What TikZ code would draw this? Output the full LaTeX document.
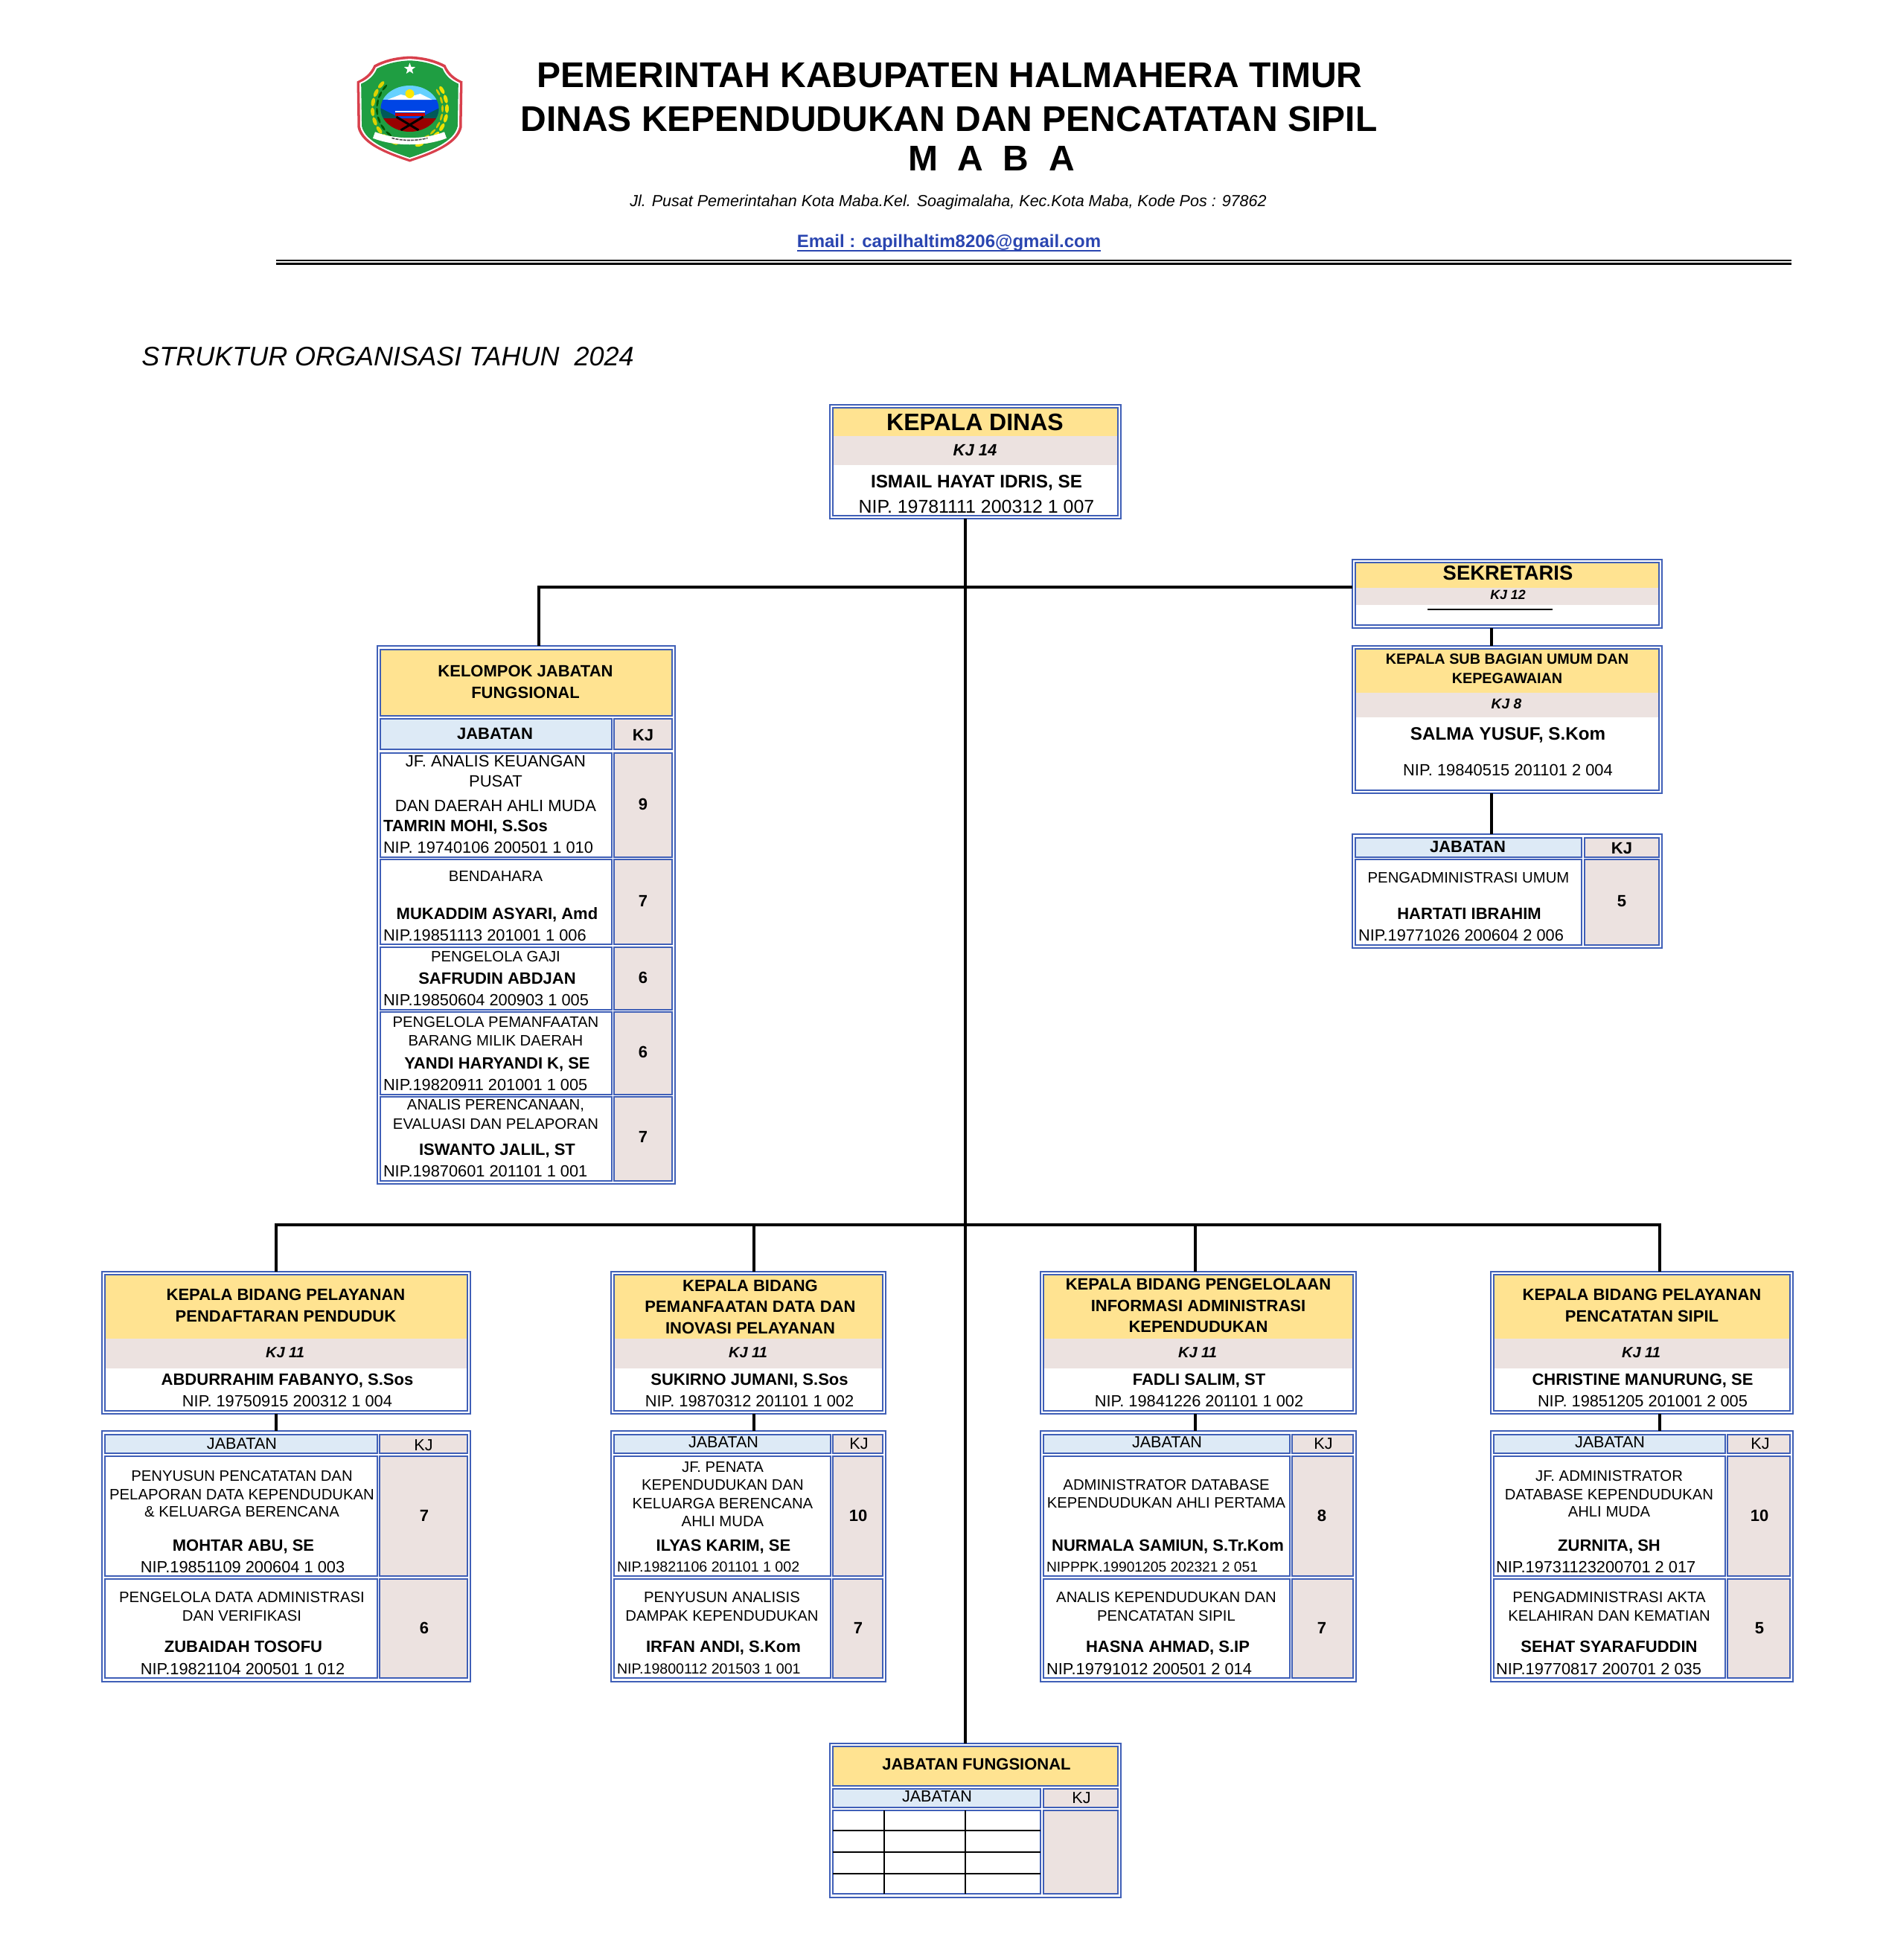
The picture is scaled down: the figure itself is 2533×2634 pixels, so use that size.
\documentclass[tikz,border=0pt]{standalone}
\usepackage{fontspec}
\usepackage{xcolor}
\setmainfont{Liberation Sans}
\usetikzlibrary{calc, positioning, shapes.geometric}
\definecolor{matblue}{HTML}{3F5FB7}
\definecolor{matgold}{HTML}{FFE391}
\definecolor{matrose}{HTML}{ECE2E0}
\definecolor{matsky}{HTML}{DDEAF6}
\definecolor{maillink}{HTML}{2A45B0}
\definecolor{crestred}{HTML}{D8404C}
\definecolor{crestgreen}{HTML}{1F9E42}
\tikzset{
  lab/.style={inner sep=0pt,outer sep=0pt,text depth=0pt},
  body/.style={lab,font=\fontsize{10.15}{12}\selectfont},
  wide/.style={lab,font=\fontsize{11}{13}\selectfont},
  nipline/.style={lab,font=\fontsize{10.9}{12}\selectfont},
  heading/.style={lab,font=\fontsize{11}{12}\selectfont\bfseries},
  kjline/.style={lab,font=\fontsize{10}{11}\selectfont\bfseries\itshape},
  digit/.style={lab,font=\fontsize{11}{12}\selectfont\bfseries},
  letterhead/.style={lab,font=\fontsize{24}{28}\selectfont\bfseries},
  cellbox/.style={inner sep=0pt,outer sep=0pt,rectangle,draw=matblue,line width=1.1pt},
  bandbox/.style={inner sep=0pt,outer sep=0pt,rectangle},
  conn/.style={line width=1.9pt,black},
  gridrule/.style={line width=0.8pt,black}
}
\newcommand\DrawCell[6][]{%
\node[cellbox,#1,minimum width={((#5)-(#3))*0.5pt},minimum height={((#6)-(#4))*0.5pt}] (#2) at ({((#3)+(#5))/2},{((#4)+(#6))/2}) {};
}
\newcommand\DrawBand[6][]{%
\node[bandbox,#1,minimum width={((#5)-(#3))*0.5pt},minimum height={((#6)-(#4))*0.5pt}] (#2) at ({((#3)+(#5))/2},{((#4)+(#6))/2}) {};
}
\newcommand\LabelAt[5][body]{%
\node[#1] (#2) at (#3,#4) {\vphantom{H}#5};
}
% outer frame, gold band, rose band, inner frame
\newcommand\DrawHead[7]{%
\DrawCell{#1}{#2}{#3}{#4}{#5}
\DrawBand[fill=matgold]{#1gold}{#2+4}{#3+4}{#4-4}{#6}
\DrawBand[fill=matrose]{#1rose}{#2+4}{#6}{#4-4}{#7}
\DrawCell{#1in}{#2+4}{#3+4}{#4-4}{#5-4}
}
% table with a header row and two rows, as under each bidang
\newcommand\DrawTable[5]{%
\DrawCell{#1}{#2}{1923}{#5}{2260}
\DrawCell[fill=matsky]{#1hj}{#2+4}{1928}{#3}{1953}
\DrawCell[fill=matrose]{#1hk}{#4}{1928}{#5-4}{1953}
\DrawCell{#1ra}{#2+4}{1957}{#3}{2118}
\DrawCell[fill=matrose]{#1ka}{#4}{1957}{#5-4}{2118}
\DrawCell{#1rb}{#2+4}{2122}{#3}{2255}
\DrawCell[fill=matrose]{#1kb}{#4}{2122}{#5-4}{2255}
}
\newcommand\DrawCrest{%
\def\CrestPath{(0,-72) .. controls (-20,-71) and (-35,-67) .. (-48,-60) .. controls (-53,-48) and (-62,-42) .. (-71,-38) -- (-70,24) .. controls (-65,47) and (-30,60) .. (0,70) .. controls (30,60) and (65,47) .. (70,24) -- (71,-38) .. controls (62,-42) and (53,-48) .. (48,-60) .. controls (35,-67) and (20,-71) .. (0,-72) -- cycle}
\begin{scope}[shift={(550.5,147.5)}]
  \fill[crestred] \CrestPath;
  \fill[white,scale=0.95] \CrestPath;
  \fill[crestgreen,scale=0.92] \CrestPath;
  \node[star,star points=5,star point ratio=2.4,fill=white,inner sep=0pt,minimum size=8pt] (creststar) at (0,-55) {};
  \begin{scope}[shift={(0,-1.5)}]
    \foreach \a in {140,155,...,255} {
      \fill[green!35!black,rotate=\a] (44,0) ellipse [x radius=1.5,y radius=5];
      \fill[yellow!70!olive,rotate=\a] (50,0) ellipse [x radius=2.5,y radius=6];
    }
    \foreach \a in {-75,-60,...,40} {
      \fill[yellow!60!olive,rotate=\a] (44,0) ellipse [x radius=1.5,y radius=5];
      \fill[yellow!85!olive,rotate=\a] (50,0) ellipse [x radius=2.5,y radius=6];
    }
    \begin{scope}
      \clip (0,0) ellipse [x radius=39,y radius=31];
      \fill[blue!30!cyan!60!white] (-40,-32) rectangle (40,-12);
      \fill[blue!70!cyan!90!black] (-40,-12) rectangle (40,13);
      \fill[white] (-30,-12) -- (-12,-19) -- (0,-16) -- (14,-20) -- (30,-12) -- cycle;
      \fill[teal!70!black] (-40,-1) -- (-12,13) -- (-40,15) -- cycle;
      \fill[teal!70!black] (40,-1) -- (12,13) -- (40,15) -- cycle;
      \fill[red!60!black] (-40,13) rectangle (40,32);
      \fill[white] (-20,3) rectangle (20,5);
      \fill[red!80!black] (-20,6) rectangle (20,10);
      \draw[black,line width=1.5pt] (-18,11) -- (12,29);
      \draw[black,line width=1.5pt] (18,11) -- (-12,29);
    \end{scope}
    \fill[yellow!90!orange] (0,-20) circle [radius=6];
  \end{scope}
  \draw[white,line width=4.5pt] (-48,34) .. controls (-20,45) and (20,45) .. (48,34);
  \draw[black!70,line width=0.8pt,dash pattern=on 2pt off 0.6pt] (-24,38) .. controls (-10,42) and (10,42) .. (24,38);
\end{scope}
}

\begin{document}
\begin{tikzpicture}[x=0.5pt,y=-0.5pt]
  \useasboundingbox (0,0) rectangle (2533,2634);

  \DrawCrest

  \LabelAt[letterhead]{titleA}{1276}{101}{PEMERINTAH KABUPATEN HALMAHERA TIMUR}
  \LabelAt[letterhead]{titleB}{1275}{160}{DINAS KEPENDUDUKAN DAN PENCATATAN SIPIL}
  \LabelAt[letterhead]{titleC}{1332}{213}{M\ \ A\ \ B\ \ A}
  \LabelAt[lab,font=\fontsize{10.76}{13}\selectfont\itshape]{address}{1274}{270}{Jl. Pusat Pemerintahan Kota Maba.Kel. Soagimalaha, Kec.Kota Maba, Kode Pos : 97862}
  \LabelAt[lab,text=maillink,font=\fontsize{12}{14}\selectfont\bfseries]{email}{1275}{324}{Email : capilhaltim8206@gmail.com}
  \draw[maillink,line width=1.1pt] ($(email.south west)+(0,4)$) -- ($(email.south east)+(0,4)$);
  \coordinate (ruleL) at (371,350);
  \coordinate (ruleR) at (2407,350);
  \draw[line width=1.1pt] (ruleL) -- (ruleR);
  \draw[line width=1.1pt] ($(ruleL)+(0,4.5)$) -- ($(ruleR)+(0,4.5)$);
  \LabelAt[lab,font=\fontsize{18}{21}\selectfont\itshape]{yeartitle}{521}{479}{STRUKTUR ORGANISASI TAHUN\ \ 2024}

  % kepala dinas
  \DrawHead{kadis}{1115}{544}{1506}{697}{586}{625}
  \LabelAt[lab,font=\fontsize{16}{18}\selectfont\bfseries]{kadistitle}{1310}{567}{KEPALA DINAS}
  \LabelAt[lab,font=\fontsize{11}{12}\selectfont\bfseries\itshape]{kadiskj}{1310}{605}{KJ 14}
  \LabelAt[lab,font=\fontsize{12.15}{13}\selectfont\bfseries]{kadisname}{1312}{647}{ISMAIL HAYAT IDRIS, SE}
  \LabelAt[lab,font=\fontsize{12.45}{14}\selectfont]{kadisnip}{1312}{681}{NIP. 19781111 200312 1 007}

  % sekretaris
  \DrawHead{sek}{1817}{752}{2233}{844}{790}{813}
  \LabelAt[lab,font=\fontsize{13.7}{16}\selectfont\bfseries]{sektitle}{2026}{770}{SEKRETARIS}
  \LabelAt[lab,font=\fontsize{8.9}{10}\selectfont\bfseries\itshape]{sekkj}{2026}{799}{KJ 12}
  \coordinate (sekblankL) at (1918,819);
  \coordinate (sekblankR) at (2086,819);
  \draw[line width=0.8pt] (sekblankL) -- (sekblankR);

  \DrawHead{sub}{1817}{868}{2233}{1066}{931}{964}
  \LabelAt[lab,font=\fontsize{9.9}{12}\selectfont\bfseries]{subtitleA}{2025}{886}{KEPALA SUB BAGIAN UMUM DAN}
  \LabelAt[lab,font=\fontsize{9.9}{12}\selectfont\bfseries]{subtitleB}{2025}{912}{KEPEGAWAIAN}
  \LabelAt[kjline,font=\fontsize{9.6}{11}\selectfont\bfseries\itshape]{subkj}{2024}{946}{KJ 8}
  \LabelAt[lab,font=\fontsize{12.1}{13}\selectfont\bfseries]{subname}{2026}{986}{SALMA YUSUF, S.Kom}
  \LabelAt[nipline,font=\fontsize{10.95}{12}\selectfont]{subnip}{2026}{1035}{NIP. 19840515 201101 2 004}

  \DrawCell{subtab}{1817}{1121}{2233}{1274}
  \DrawCell[fill=matsky]{subhj}{1821}{1126}{2125}{1152}
  \DrawCell[fill=matrose]{subhk}{2129}{1126}{2229}{1152}
  \DrawCell{subra}{1821}{1155}{2125}{1270}
  \DrawCell[fill=matrose]{subka}{2129}{1155}{2229}{1270}
  \LabelAt[heading]{subj}{1972}{1138}{JABATAN}
  \LabelAt[heading]{subk}{2179}{1140}{KJ}
  \LabelAt{subrole}{1973}{1179}{PENGADMINISTRASI UMUM}
  \LabelAt[heading]{subperson}{1974}{1228}{HARTATI IBRAHIM}
  \LabelAt[nipline,anchor=west]{subpnip}{1825}{1257}{NIP.19771026 200604 2 006}
  \LabelAt[digit]{subdigit}{2179}{1211}{5}

  % kelompok jabatan fungsional
  \DrawCell{kelompok}{507}{868}{907}{1591}
  \DrawCell[fill=matgold]{kelgold}{511}{873}{903}{962}
  \DrawCell[fill=matsky]{kelhj}{511}{966}{822}{1007}
  \DrawCell[fill=matrose]{kelhk}{825}{966}{903}{1007}
  \DrawCell{kelra}{511}{1012}{822}{1152}
  \DrawCell[fill=matrose]{kelka}{825}{1012}{903}{1152}
  \DrawCell{kelrb}{511}{1155}{822}{1269}
  \DrawCell[fill=matrose]{kelkb}{825}{1155}{903}{1269}
  \DrawCell{kelrc}{511}{1273}{822}{1357}
  \DrawCell[fill=matrose]{kelkc}{825}{1273}{903}{1357}
  \DrawCell{kelrd}{511}{1360}{822}{1471}
  \DrawCell[fill=matrose]{kelkd}{825}{1360}{903}{1471}
  \DrawCell{kelre}{511}{1474}{822}{1587}
  \DrawCell[fill=matrose]{kelke}{825}{1474}{903}{1587}
  \LabelAt[heading]{keltitleA}{706}{902}{KELOMPOK JABATAN}
  \LabelAt[heading]{keltitleB}{706}{931}{FUNGSIONAL}
  \LabelAt[heading]{kelj}{665}{986}{JABATAN}
  \LabelAt[heading]{kelk}{864}{988}{KJ}
  \LabelAt[wide]{kelaA}{666}{1023}{JF. ANALIS KEUANGAN}
  \LabelAt[wide]{kelaB}{666}{1050}{PUSAT}
  \LabelAt[wide]{kelaC}{666}{1083}{DAN DAERAH AHLI MUDA}
  \LabelAt[heading,anchor=west]{kelaD}{515}{1110}{TAMRIN MOHI, S.Sos}
  \LabelAt[nipline,anchor=west]{kelaE}{515}{1139}{NIP. 19740106 200501 1 010}
  \LabelAt[digit]{kelaK}{864}{1081}{9}
  \LabelAt{kelbA}{666}{1178}{BENDAHARA}
  \LabelAt[heading]{kelbB}{668}{1228}{MUKADDIM ASYARI, Amd}
  \LabelAt[nipline,anchor=west]{kelbC}{515}{1257}{NIP.19851113 201001 1 006}
  \LabelAt[digit]{kelbK}{864}{1211}{7}
  \LabelAt{kelcA}{666}{1285}{PENGELOLA GAJI}
  \LabelAt[heading]{kelcB}{668}{1315}{SAFRUDIN ABDJAN}
  \LabelAt[nipline,anchor=west]{kelcC}{515}{1344}{NIP.19850604 200903 1 005}
  \LabelAt[digit]{kelcK}{864}{1314}{6}
  \LabelAt{keldA}{666}{1373}{PENGELOLA PEMANFAATAN}
  \LabelAt{keldB}{666}{1398}{BARANG MILIK DAERAH}
  \LabelAt[heading]{keldC}{668}{1429}{YANDI HARYANDI K, SE}
  \LabelAt[nipline,anchor=west]{keldD}{515}{1458}{NIP.19820911 201001 1 005}
  \LabelAt[digit]{keldK}{864}{1414}{6}
  \LabelAt{keleA}{666}{1484}{ANALIS PERENCANAAN,}
  \LabelAt{keleB}{666}{1510}{EVALUASI DAN PELAPORAN}
  \LabelAt[heading]{keleC}{668}{1545}{ISWANTO JALIL, ST}
  \LabelAt[nipline,anchor=west]{keleD}{515}{1574}{NIP.19870601 201101 1 001}
  \LabelAt[digit]{keleK}{864}{1528}{7}

  % bidang 1
  \DrawHead{bA}{137}{1709}{632}{1900}{1799}{1839}
  \LabelAt[heading]{bAtitleA}{384}{1740}{KEPALA BIDANG PELAYANAN}
  \LabelAt[heading]{bAtitleB}{384}{1769}{PENDAFTARAN PENDUDUK}
  \LabelAt[kjline]{bAkj}{383}{1818}{KJ 11}
  \LabelAt[heading]{bAname}{386}{1854}{ABDURRAHIM FABANYO, S.Sos}
  \LabelAt[nipline]{bAnip}{386}{1883}{NIP. 19750915 200312 1 004}
  \DrawTable{bAtab}{137}{507}{510}{632}
  \LabelAt[lab,font=\fontsize{10.8}{12}\selectfont]{bAj}{325}{1940}{JABATAN}
  \LabelAt[lab,font=\fontsize{10.8}{12}\selectfont]{bAk}{569}{1942}{KJ}
  \LabelAt{bAaA}{325}{1983}{PENYUSUN PENCATATAN DAN}
  \LabelAt{bAaB}{325}{2008}{PELAPORAN DATA KEPENDUDUKAN}
  \LabelAt{bAaC}{325}{2031}{\& KELUARGA BERENCANA}
  \LabelAt[heading]{bAaD}{327}{2077}{MOHTAR ABU, SE}
  \LabelAt[nipline]{bAaE}{326}{2106}{NIP.19851109 200604 1 003}
  \LabelAt[digit]{bAaK}{570}{2037}{7}
  \LabelAt{bAbA}{325}{2146}{PENGELOLA DATA ADMINISTRASI}
  \LabelAt{bAbB}{325}{2171}{DAN VERIFIKASI}
  \LabelAt[heading]{bAbC}{327}{2213}{ZUBAIDAH TOSOFU}
  \LabelAt[nipline]{bAbD}{326}{2243}{NIP.19821104 200501 1 012}
  \LabelAt[digit]{bAbK}{570}{2188}{6}

  % bidang 2
  \DrawHead{bB}{821}{1709}{1190}{1900}{1799}{1839}
  \LabelAt[heading]{bBtitleA}{1008}{1728}{KEPALA BIDANG}
  \LabelAt[heading]{bBtitleB}{1008}{1756}{PEMANFAATAN DATA DAN}
  \LabelAt[heading]{bBtitleC}{1008}{1785}{INOVASI PELAYANAN}
  \LabelAt[kjline]{bBkj}{1005}{1818}{KJ 11}
  \LabelAt[heading]{bBname}{1007}{1854}{SUKIRNO JUMANI, S.Sos}
  \LabelAt[nipline]{bBnip}{1007}{1883}{NIP. 19870312 201101 1 002}
  \DrawTable{bBtab}{821}{1116}{1119}{1190}
  \LabelAt[lab,font=\fontsize{10.8}{12}\selectfont]{bBj}{972}{1938}{JABATAN}
  \LabelAt[lab,font=\fontsize{10.8}{12}\selectfont]{bBk}{1154}{1940}{KJ}
  \LabelAt{bBaA}{971}{1971}{JF. PENATA}
  \LabelAt{bBaB}{971}{1995}{KEPENDUDUKAN DAN}
  \LabelAt{bBaC}{971}{2020}{KELUARGA BERENCANA}
  \LabelAt{bBaD}{971}{2044}{AHLI MUDA}
  \LabelAt[heading]{bBaE}{972}{2077}{ILYAS KARIM, SE}
  \LabelAt[lab,anchor=west,font=\fontsize{9.8}{12}\selectfont]{bBaF}{829}{2106}{NIP.19821106 201101 1 002}
  \LabelAt[digit]{bBaK}{1153}{2037}{10}
  \LabelAt{bBbA}{970}{2146}{PENYUSUN ANALISIS}
  \LabelAt{bBbB}{970}{2171}{DAMPAK KEPENDUDUKAN}
  \LabelAt[heading]{bBbC}{972}{2213}{IRFAN ANDI, S.Kom}
  \LabelAt[lab,anchor=west,font=\fontsize{9.8}{12}\selectfont]{bBbD}{829}{2243}{NIP.19800112 201503 1 001}
  \LabelAt[digit]{bBbK}{1153}{2188}{7}

  % bidang 3
  \DrawHead{bC}{1398}{1709}{1822}{1900}{1799}{1839}
  \LabelAt[heading]{bCtitleA}{1610}{1726}{KEPALA BIDANG PENGELOLAAN}
  \LabelAt[heading]{bCtitleB}{1610}{1755}{INFORMASI ADMINISTRASI}
  \LabelAt[heading]{bCtitleC}{1610}{1783}{KEPENDUDUKAN}
  \LabelAt[kjline]{bCkj}{1609}{1818}{KJ 11}
  \LabelAt[heading]{bCname}{1611}{1854}{FADLI SALIM, ST}
  \LabelAt[nipline]{bCnip}{1611}{1883}{NIP. 19841226 201101 1 002}
  \DrawTable{bCtab}{1398}{1733}{1736}{1822}
  \LabelAt[lab,font=\fontsize{10.8}{12}\selectfont]{bCj}{1568}{1938}{JABATAN}
  \LabelAt[lab,font=\fontsize{10.8}{12}\selectfont]{bCk}{1778}{1940}{KJ}
  \LabelAt{bCaA}{1567}{1995}{ADMINISTRATOR DATABASE}
  \LabelAt[body,font=\fontsize{10.1}{12}\selectfont]{bCaB}{1567}{2020}{KEPENDUDUKAN AHLI PERTAMA}
  \LabelAt[heading]{bCaC}{1569}{2077}{NURMALA SAMIUN, S.Tr.Kom}
  \LabelAt[lab,anchor=west,font=\fontsize{9.6}{12}\selectfont]{bCaD}{1406}{2106}{NIPPPK.19901205 202321 2 051}
  \LabelAt[digit]{bCaK}{1776}{2037}{8}
  \LabelAt{bCbA}{1567}{2146}{ANALIS KEPENDUDUKAN DAN}
  \LabelAt{bCbB}{1567}{2171}{PENCATATAN SIPIL}
  \LabelAt[heading]{bCbC}{1569}{2213}{HASNA AHMAD, S.IP}
  \LabelAt[nipline,anchor=west]{bCbD}{1406}{2243}{NIP.19791012 200501 2 014}
  \LabelAt[digit]{bCbK}{1776}{2188}{7}

  % bidang 4
  \DrawHead{bD}{2003}{1709}{2409}{1900}{1799}{1839}
  \LabelAt[heading]{bDtitleA}{2206}{1740}{KEPALA BIDANG PELAYANAN}
  \LabelAt[heading]{bDtitleB}{2206}{1769}{PENCATATAN SIPIL}
  \LabelAt[kjline]{bDkj}{2205}{1818}{KJ 11}
  \LabelAt[heading]{bDname}{2207}{1854}{CHRISTINE MANURUNG, SE}
  \LabelAt[nipline]{bDnip}{2207}{1883}{NIP. 19851205 201001 2 005}
  \DrawTable{bDtab}{2003}{2318}{2321}{2409}
  \LabelAt[lab,font=\fontsize{10.8}{12}\selectfont]{bDj}{2163}{1938}{JABATAN}
  \LabelAt[lab,font=\fontsize{10.8}{12}\selectfont]{bDk}{2365}{1940}{KJ}
  \LabelAt{bDaA}{2162}{1983}{JF. ADMINISTRATOR}
  \LabelAt{bDaB}{2162}{2008}{DATABASE KEPENDUDUKAN}
  \LabelAt{bDaC}{2162}{2031}{AHLI MUDA}
  \LabelAt[heading]{bDaD}{2162}{2077}{ZURNITA, SH}
  \LabelAt[nipline,anchor=west]{bDaE}{2010}{2106}{NIP.19731123200701 2 017}
  \LabelAt[digit]{bDaK}{2364}{2037}{10}
  \LabelAt{bDbA}{2162}{2146}{PENGADMINISTRASI AKTA}
  \LabelAt{bDbB}{2162}{2171}{KELAHIRAN DAN KEMATIAN}
  \LabelAt[heading]{bDbC}{2162}{2213}{SEHAT SYARAFUDDIN}
  \LabelAt[nipline,anchor=west]{bDbD}{2010}{2243}{NIP.19770817 200701 2 035}
  \LabelAt[digit]{bDbK}{2364}{2188}{5}

  % jabatan fungsional
  \DrawCell{jf}{1115}{2343}{1506}{2550}
  \DrawCell[fill=matgold]{jfgold}{1119}{2347}{1502}{2400}
  \DrawCell[fill=matsky]{jfhj}{1119}{2404}{1398}{2429}
  \DrawCell[fill=matrose]{jfhk}{1402}{2404}{1502}{2429}
  \DrawCell{jfra}{1119}{2433}{1398}{2545}
  \DrawCell[fill=matrose]{jfka}{1402}{2433}{1502}{2545}
  \LabelAt[heading]{jftitle}{1312}{2371}{JABATAN FUNGSIONAL}
  \LabelAt[lab,font=\fontsize{10.8}{12}\selectfont]{jfj}{1259}{2414}{JABATAN}
  \LabelAt[lab,font=\fontsize{10.8}{12}\selectfont]{jfk}{1453}{2416}{KJ}
  \foreach \gx in {1188,1297} {
    \draw[gridrule] (\gx,2433) -- (\gx,2545);
  }
  \foreach \gy in {2460,2489,2518} {
    \draw[gridrule] (1119,\gy) -- (1398,\gy);
  }

  % connectors
  \coordinate (spineA) at (1297,789);
  \coordinate (tapFung) at (724,789);
  \coordinate (tapSub) at (2004,844);
  \coordinate (tapA) at (371,1646);
  \coordinate (tapB) at (1013,1646);
  \coordinate (tapC) at (1606,1646);
  \coordinate (tapD) at (2230,1646);
  \draw[conn] (kadis.south -| spineA) -- (jf.north -| spineA);
  \draw[conn] (kelompok.north -| tapFung) -- (tapFung) -- (sek.west |- tapFung);
  \draw[conn] (sek.south -| tapSub) -- (sub.north -| tapSub);
  \draw[conn] (sub.south -| tapSub) -- (subtab.north -| tapSub);
  \draw[conn] (bA.north -| tapA) -- (tapA) -- (tapD) -- (bD.north -| tapD);
  \draw[conn] (tapB) -- (bB.north -| tapB);
  \draw[conn] (tapC) -- (bC.north -| tapC);
  \draw[conn] (bA.south -| tapA) -- (bAtab.north -| tapA);
  \draw[conn] (bB.south -| tapB) -- (bBtab.north -| tapB);
  \draw[conn] (bC.south -| tapC) -- (bCtab.north -| tapC);
  \draw[conn] (bD.south -| tapD) -- (bDtab.north -| tapD);
\end{tikzpicture}
\end{document}
